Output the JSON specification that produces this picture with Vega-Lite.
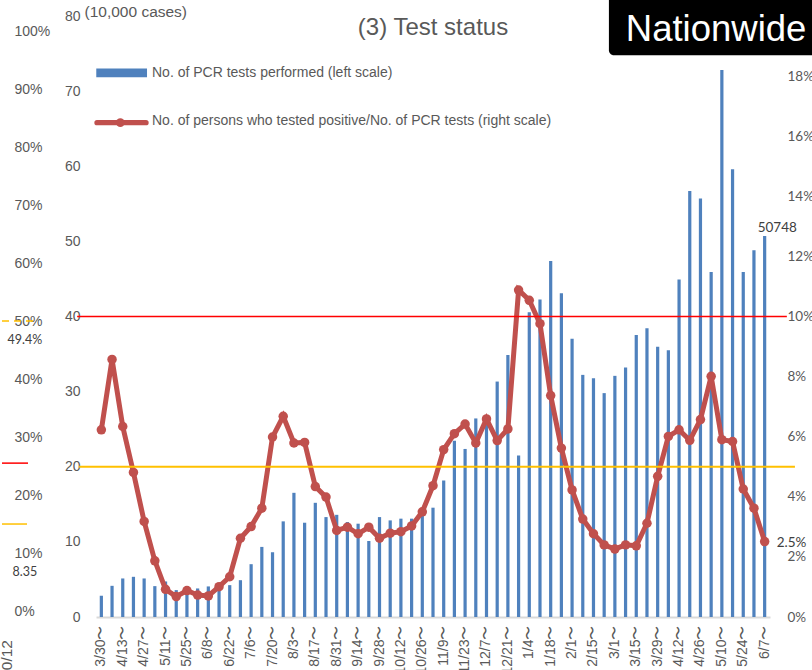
{
  "$schema": "https://vega.github.io/schema/vega-lite/v6.json",
  "padding": 0,
  "background": "white",
  "spacing": 14,
  "config": {"view": {"stroke": null}, "font": "Liberation Sans", "axis": {"grid": false}},
  "datasets": {
    "weekly": [
      {"week": "3/30〜", "tests": 2.83, "rate": 0.0623},
      {"week": "4/6〜", "tests": 4.15, "rate": 0.0857},
      {"week": "4/13〜", "tests": 5.13, "rate": 0.0634},
      {"week": "4/20〜", "tests": 5.35, "rate": 0.0481},
      {"week": "4/27〜", "tests": 5.13, "rate": 0.0318},
      {"week": "5/4〜", "tests": 4.11, "rate": 0.0187},
      {"week": "5/11〜", "tests": 4.73, "rate": 0.0092},
      {"week": "5/18〜", "tests": 3.58, "rate": 0.0068},
      {"week": "5/25〜", "tests": 3.7, "rate": 0.0088},
      {"week": "6/1〜", "tests": 3.8, "rate": 0.0073},
      {"week": "6/8〜", "tests": 4.07, "rate": 0.0070},
      {"week": "6/15〜", "tests": 4.1, "rate": 0.0101},
      {"week": "6/22〜", "tests": 4.24, "rate": 0.0134},
      {"week": "6/29〜", "tests": 4.9, "rate": 0.0262},
      {"week": "7/6〜", "tests": 7.03, "rate": 0.0301},
      {"week": "7/13〜", "tests": 9.33, "rate": 0.0362},
      {"week": "7/20〜", "tests": 8.62, "rate": 0.0599},
      {"week": "7/27〜", "tests": 12.73, "rate": 0.0668},
      {"week": "8/3〜", "tests": 16.53, "rate": 0.0579},
      {"week": "8/10〜", "tests": 12.55, "rate": 0.0581},
      {"week": "8/17〜", "tests": 15.2, "rate": 0.0434},
      {"week": "8/24〜", "tests": 13.3, "rate": 0.0399},
      {"week": "8/31〜", "tests": 13.6, "rate": 0.0288},
      {"week": "9/7〜", "tests": 12.64, "rate": 0.0299},
      {"week": "9/14〜", "tests": 12.42, "rate": 0.0277},
      {"week": "9/21〜", "tests": 10.12, "rate": 0.0299},
      {"week": "9/28〜", "tests": 13.3, "rate": 0.0262},
      {"week": "10/5〜", "tests": 12.86, "rate": 0.0279},
      {"week": "10/12〜", "tests": 13.09, "rate": 0.0284},
      {"week": "10/19〜", "tests": 13.09, "rate": 0.0303},
      {"week": "10/26〜", "tests": 13.53, "rate": 0.0350},
      {"week": "11/2〜", "tests": 14.55, "rate": 0.0437},
      {"week": "11/9〜", "tests": 18.17, "rate": 0.0557},
      {"week": "11/16〜", "tests": 23.47, "rate": 0.0610},
      {"week": "11/23〜", "tests": 22.37, "rate": 0.0642},
      {"week": "11/30〜", "tests": 26.43, "rate": 0.0579},
      {"week": "12/7〜", "tests": 26.6, "rate": 0.0659},
      {"week": "12/14〜", "tests": 31.34, "rate": 0.0587},
      {"week": "12/21〜", "tests": 34.88, "rate": 0.0626},
      {"week": "12/28〜", "tests": 21.49, "rate": 0.1088},
      {"week": "1/4〜", "tests": 40.58, "rate": 0.1054},
      {"week": "1/11〜", "tests": 42.27, "rate": 0.0976},
      {"week": "1/18〜", "tests": 47.4, "rate": 0.0737},
      {"week": "1/25〜", "tests": 43.1, "rate": 0.0562},
      {"week": "2/1〜", "tests": 37.04, "rate": 0.0423},
      {"week": "2/8〜", "tests": 32.23, "rate": 0.0326},
      {"week": "2/15〜", "tests": 31.79, "rate": 0.0277},
      {"week": "2/22〜", "tests": 29.8, "rate": 0.0240},
      {"week": "3/1〜", "tests": 32.1, "rate": 0.0226},
      {"week": "3/8〜", "tests": 33.2, "rate": 0.0240},
      {"week": "3/15〜", "tests": 37.53, "rate": 0.0237},
      {"week": "3/22〜", "tests": 38.42, "rate": 0.0312},
      {"week": "3/29〜", "tests": 35.98, "rate": 0.0468},
      {"week": "4/5〜", "tests": 35.5, "rate": 0.0601},
      {"week": "4/12〜", "tests": 44.93, "rate": 0.0623},
      {"week": "4/19〜", "tests": 56.7, "rate": 0.0588},
      {"week": "4/26〜", "tests": 55.7, "rate": 0.0657},
      {"week": "5/3〜", "tests": 45.94, "rate": 0.0801},
      {"week": "5/10〜", "tests": 72.8, "rate": 0.0590},
      {"week": "5/17〜", "tests": 59.6, "rate": 0.0584},
      {"week": "5/24〜", "tests": 45.94, "rate": 0.0426},
      {"week": "5/31〜", "tests": 48.83, "rate": 0.0362},
      {"week": "6/7〜", "tests": 50.7, "rate": 0.0251, "note": "50748"}
    ],
    "sideLabels": [
      {"label": "49.4%", "v": 46.7},
      {"label": "8.35", "v": 6.8}
    ],
    "legendItems": [
      {"label": "No. of PCR tests performed (left scale)", "row": 0.1811},
      {"label": "No. of persons who tested positive/No. of PCR tests (right scale)", "row": 0.1650}
    ]
  },
  "hconcat": [
    {
      "width": 40,
      "height": 601,
      "layer": [
        {
          "data": {"values": [{}]},
          "mark": {"type": "rule", "color": "#ffc000", "strokeWidth": 1.5, "strokeDash": [7, 5]},
          "encoding": {
            "y": {"datum": 50, "type": "quantitative",
              "scale": {"domain": [-1.03, 102.59], "nice": false, "zero": false},
              "axis": {"orient": "right", "offset": -28, "values": [0, 10, 20, 30, 40, 50, 60, 70, 80, 90, 100],
                "labelExpr": "datum.value + '%'", "title": null, "labelFont": "Liberation Sans", "labelFontSize": 14,
                "labelColor": "#595959", "labelPadding": 0, "ticks": false, "domain": false, "grid": false,
                "labelFlush": false, "labelOverlap": false}},
            "x": {"datum": 0, "type": "quantitative", "scale": {"domain": [0, 1], "nice": false, "zero": false}, "axis": null},
            "x2": {"datum": 0.8}
          }
        },
        {
          "data": {"values": [{}]},
          "mark": {"type": "rule", "color": "#ff0000", "strokeWidth": 1.5},
          "encoding": {
            "y": {"datum": 25.5, "type": "quantitative"},
            "x": {"datum": 0, "type": "quantitative"},
            "x2": {"datum": 0.65}
          }
        },
        {
          "data": {"values": [{}]},
          "mark": {"type": "rule", "color": "#ffc000", "strokeWidth": 1.5},
          "encoding": {
            "y": {"datum": 15, "type": "quantitative"},
            "x": {"datum": 0, "type": "quantitative"},
            "x2": {"datum": 0.625}
          }
        },
        {
          "data": {"name": "sideLabels"},
          "mark": {"type": "text", "font": "Lato", "fontSize": 12.5, "color": "#404040"},
          "encoding": {
            "y": {"field": "v", "type": "quantitative"},
            "x": {"datum": 0.57, "type": "quantitative"},
            "text": {"field": "label"}
          }
        },
        {
          "data": {"values": [{"label": "10/12"}]},
          "mark": {"type": "text", "angle": 270, "align": "right", "baseline": "middle", "fontSize": 15.5, "color": "#595959"},
          "encoding": {
            "y": {"datum": -5.0, "type": "quantitative"},
            "x": {"datum": 0.125, "type": "quantitative"},
            "text": {"field": "label"}
          }
        }
      ]
    },
    {
      "width": 674,
      "height": 601,
      "resolve": {"scale": {"x": "independent", "y": "independent"}},
      "layer": [
        {
          "data": {"name": "weekly"},
          "encoding": {
            "x": {"field": "week", "type": "nominal", "sort": null,
              "scale": {"paddingInner": 0, "paddingOuter": 0},
              "axis": {"values": ["3/30〜", "4/13〜", "4/27〜", "5/11〜", "5/25〜", "6/8〜", "6/22〜", "7/6〜", "7/20〜", "8/3〜", "8/17〜", "8/31〜", "9/14〜", "9/28〜", "10/12〜", "10/26〜", "11/9〜", "11/23〜", "12/7〜", "12/21〜", "1/4〜", "1/18〜", "2/1〜", "2/15〜", "3/1〜", "3/15〜", "3/29〜", "4/12〜", "4/26〜", "5/10〜", "5/24〜", "6/7〜"],
                "labelAngle": 270, "labelAlign": "right", "labelBaseline": "middle", "labelPadding": 8,
                "ticks": false, "domainColor": "#d9d9d9", "domainWidth": 2, "labelFontSize": 14,
                "labelColor": "#595959", "labelFont": "Liberation Sans", "title": null,
                "labelOverlap": false, "labelBound": false, "labelFlush": false}}
          },
          "layer": [
            {
              "mark": {"type": "bar", "width": {"band": 0.3}, "color": "#4f81bd"},
              "encoding": {
                "y": {"field": "tests", "type": "quantitative",
                  "scale": {"domain": [0, 80], "nice": false},
                  "axis": {"orient": "left", "values": [0, 10, 20, 30, 40, 50, 60, 70, 80],
                    "title": "(10,000 cases)", "titleAngle": 0, "titleAlign": "left", "titleBaseline": "middle",
                    "titleX": -12, "titleY": -5, "titleFontSize": 15.5, "titleFontWeight": "normal",
                    "titleColor": "#595959", "titleFont": "Liberation Sans",
                    "labelFontSize": 14, "labelColor": "#595959", "labelFont": "Liberation Sans", "labelPadding": 16,
                    "ticks": false, "domain": false, "grid": false, "labelFlush": false, "labelOverlap": false}}
              }
            },
            {
              "transform": [{"filter": "datum.note"}],
              "mark": {"type": "text", "align": "left", "baseline": "middle", "dx": -7, "dy": -8,
                "font": "Lato", "fontSize": 13.5, "color": "#404040"},
              "encoding": {
                "y": {"field": "tests", "type": "quantitative"},
                "text": {"field": "note"}
              }
            }
          ]
        },
        {
          "data": {"name": "weekly"},
          "encoding": {
            "x": {"field": "week", "type": "nominal", "sort": null, "axis": null}
          },
          "layer": [
            {
              "mark": {"type": "line", "strokeWidth": 5, "color": "#c0504d", "point": {"filled": true, "size": 90, "color": "#c0504d"}},
              "encoding": {
                "y": {"field": "rate", "type": "quantitative",
                  "scale": {"domain": [0, 0.2], "nice": false},
                  "axis": {"orient": "right", "values": [0, 0.02, 0.04, 0.06, 0.08, 0.1, 0.12, 0.14, 0.16, 0.18, 0.2],
                    "format": ".0%", "title": null, "labelFont": "Lato", "labelFontSize": 13.5,
                    "labelColor": "#595959", "labelPadding": 17, "ticks": false, "domain": false, "grid": false,
                    "labelFlush": false, "labelOverlap": false}}
              }
            },
            {
              "transform": [{"filter": "datum.week === '6/7〜'"}],
              "mark": {"type": "text", "align": "left", "baseline": "middle", "dx": 12, "dy": 1.5,
                "font": "Lato", "fontSize": 13.5, "color": "#404040"},
              "encoding": {
                "y": {"field": "rate", "type": "quantitative"},
                "text": {"field": "rate", "format": ".1%"}
              }
            }
          ]
        },
        {
          "data": {"values": [{}]},
          "layer": [
            {
              "mark": {"type": "rule", "color": "#ff0000", "strokeWidth": 1.5},
              "encoding": {
                "x": {"datum": -0.028, "type": "quantitative", "scale": {"domain": [0, 1], "nice": false, "zero": false}, "axis": null},
                "x2": {"datum": 1.025},
                "y": {"datum": 0.1, "type": "quantitative", "scale": {"domain": [0, 0.2], "nice": false}, "axis": null}
              }
            },
            {
              "mark": {"type": "rule", "color": "#ffc000", "strokeWidth": 2},
              "encoding": {
                "x": {"datum": -0.025, "type": "quantitative"},
                "x2": {"datum": 1.037},
                "y": {"datum": 0.05, "type": "quantitative"}
              }
            },
            {
              "mark": {"type": "rect", "color": "#000000", "cornerRadiusBottomLeft": 5},
              "encoding": {
                "x": {"datum": 0.761, "type": "quantitative"},
                "x2": {"datum": 1.2},
                "y": {"datum": 0.1869, "type": "quantitative"},
                "y2": {"datum": 0.2053}
              }
            },
            {
              "mark": {"type": "text", "color": "#ffffff", "fontSize": 36.5, "font": "Liberation Sans", "baseline": "middle"},
              "encoding": {
                "x": {"datum": 0.92, "type": "quantitative"},
                "y": {"datum": 0.1952, "type": "quantitative"},
                "text": {"value": "Nationwide"}
              }
            },
            {
              "mark": {"type": "text", "color": "#595959", "fontSize": 24, "font": "Liberation Sans", "baseline": "middle"},
              "encoding": {
                "x": {"datum": 0.5, "type": "quantitative"},
                "y": {"datum": 0.1959, "type": "quantitative"},
                "text": {"value": "(3) Test status"}
              }
            },
            {
              "mark": {"type": "rect", "color": "#4f81bd"},
              "encoding": {
                "x": {"datum": 0.0004, "type": "quantitative"},
                "x2": {"datum": 0.0757},
                "y": {"datum": 0.1796, "type": "quantitative"},
                "y2": {"datum": 0.1825}
              }
            },
            {
              "mark": {"type": "rule", "color": "#c0504d", "strokeWidth": 5.3, "strokeCap": "round"},
              "encoding": {
                "x": {"datum": 0.0015, "type": "quantitative"},
                "x2": {"datum": 0.0742},
                "y": {"datum": 0.1645, "type": "quantitative"}
              }
            },
            {
              "mark": {"type": "point", "filled": true, "opacity": 1, "color": "#c0504d", "size": 75},
              "encoding": {
                "x": {"datum": 0.0361, "type": "quantitative"},
                "y": {"datum": 0.1645, "type": "quantitative"}
              }
            },
            {
              "data": {"name": "legendItems"},
              "mark": {"type": "text", "align": "left", "baseline": "middle", "fontSize": 14, "font": "Liberation Sans", "color": "#595959"},
              "encoding": {
                "x": {"datum": 0.0831, "type": "quantitative"},
                "y": {"field": "row", "type": "quantitative"},
                "text": {"field": "label"}
              }
            }
          ]
        }
      ]
    }
  ]
}
